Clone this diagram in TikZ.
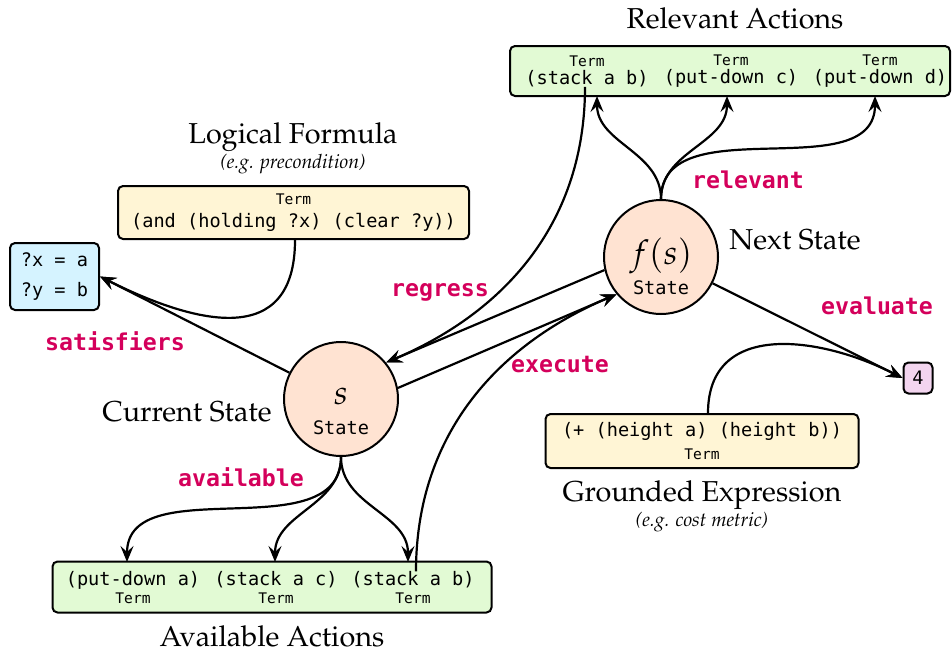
\documentclass[tikz,border=0pt]{standalone}
\usepackage{mathpazo}
\usepackage[no-math]{fontspec}
\setmonofont{DejaVu Sans Mono}
\usetikzlibrary{arrows.meta}

\newcommand{\palfont}{\fontencoding{OT1}\fontfamily{ppl}\selectfont}
\newcommand{\termtag}{{\fontsize{7.3}{8}\selectfont Term}}
\newcommand{\statetext}[1]{\raisebox{-7pt}[\height][\depth]{\begin{tabular}{@{}c@{}}%
    {\fontsize{17}{15}\selectfont$#1$}\\State\end{tabular}}}

\definecolor{relfill}{HTML}{E2FAD4}
\definecolor{formfill}{HTML}{FFF5D5}
\definecolor{satfill}{HTML}{D5F3FF}
\definecolor{valfill}{HTML}{F3D5EF}
\definecolor{statefill}{HTML}{FFE3D2}
\definecolor{opred}{HTML}{D4005B}

\begin{document}
\begin{tikzpicture}[x=0.5pt, y=0.5pt,
    box/.style={draw, rounded corners=2.5pt, line width=1pt, inner sep=0pt},
    term/.style={align=center, font=\fontsize{9.3}{9}\ttfamily, inner sep=0pt},
    wide/.style={font=\fontsize{9.3}{11.8}\ttfamily},
    state/.style={circle, draw, line width=1pt, fill=statefill, minimum size=57pt,
        inner sep=0pt, font=\fontsize{9.3}{15}\ttfamily},
    op/.style={text=opred, font=\fontsize{11.6}{12}\ttfamily\bfseries},
    title/.style={font=\fontsize{14.4}{15}\palfont, inner sep=0pt},
    sub/.style={font=\fontsize{9.8}{10}\palfont\itshape, inner sep=0pt},
    arrow/.style={-{Stealth[length=8pt, width=6.5pt, inset=3pt]}, line width=1.1pt}
]
\useasboundingbox (0,0) rectangle (952,-653);

% states
\node[state] (s) at (341,-399) {\statetext{s}};
\node[state] (fs) at (661,-257) {\statetext{f(s)}};
\node[title, anchor=east] (curlbl) at (272,-412) {Current State};
\node[title, anchor=west] (nextlbl) at (729,-240) {Next State};

% relevant actions
\node[box, fill=relfill, minimum width=220pt, minimum height=25pt] (rel) at (730,-71) {};
\node[term] (r1) at (587,-71) {\termtag\\(stack a b)};
\node[term] (r2) at (731,-71) {\termtag\\(put-down c)};
\node[term] (r3) at (880,-71) {\termtag\\(put-down d)};
\node[title] (reltitle) at (735,-18) {Relevant Actions};

% available actions
\node[box, fill=relfill, minimum width=219.5pt, minimum height=25.5pt] (avail) at (272,-587) {};
\node[term] (a1) at (133,-588) {(put-down a)\\\termtag};
\node[term] (a2) at (276,-588) {(stack a c)\\\termtag};
\node[term] (a3) at (413,-588) {(stack a b)\\\termtag};
\node[title] (availtitle) at (272,-636) {Available Actions};

% logical formula
\node[box, term, wide, fill=formfill, minimum width=175.5pt, minimum height=26.5pt] (form) at (293.5,-212.5)
    {\termtag\\(and (holding ?x) (clear ?y))};
\node[title] (formtitle) at (293,-137) {Logical Formula};
\node[sub] (formsub) at (293,-164) {(e.g. precondition)};
\node[box, fill=satfill, minimum width=44.5pt, minimum height=33.5pt, align=center,
    font=\fontsize{9.3}{15}\ttfamily] (sat) at (54.5,-276.5) {?x = a\\?y = b};

% grounded expression
\node[box, term, wide, fill=formfill, minimum width=156.5pt, minimum height=27pt] (expr) at (702,-441)
    {(+ (height a) (height b))\\\termtag};
\node[title] (exprtitle) at (702,-495) {Grounded Expression};
\node[sub] (exprsub) at (702,-522) {(e.g. cost metric)};
\node[box, fill=valfill, minimum width=14.5pt, minimum height=15.5pt,
    font=\fontsize{9.3}{10}\ttfamily] (val) at (918,-378) {4};

% operation labels
\node[op] (satop) at (115,-341) {satisfiers};
\node[op] (regop) at (440,-292) {regress};
\node[op] (exeop) at (560,-365) {execute};
\node[op] (relop) at (748,-180) {relevant};
\node[op] (evalop) at (877,-306) {evaluate};
\node[op] (availop) at (241,-477) {available};

% connectors
\draw[arrow] (s.153) -- (sat.east);
\draw[arrow] (form.south -| 295,0) to[out=-90, in=-26.6, looseness=1.4] (sat.east);
\draw[arrow] (fs.193) -- (s.39);
\draw[arrow] (r1.south -| 585,0) to[out=-90, in=23] (s.39);
\draw[arrow] (s.11) -- (fs.220);
\draw[arrow] (a3.north -| 416,0) to[out=90, in=203] (fs.220);
\draw[arrow] (fs.-27) -- (val.west);
\draw[arrow] (expr.north -| 708,0) to[out=90, in=153, looseness=1.2] (val.west);
\foreach \x in {597, 727, 875}
    \draw[arrow] (fs.north) to[out=90, in=-90] (\x,-96);
\foreach \x in {127, 275, 408}
    \draw[arrow] (s.south) to[out=-90, in=90] (\x,-562);

\end{tikzpicture}
\end{document}
